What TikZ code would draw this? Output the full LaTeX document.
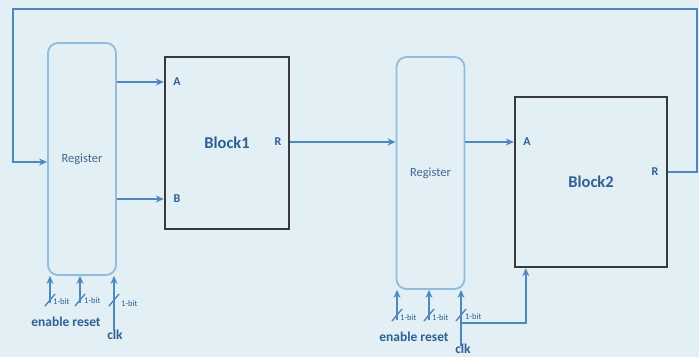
\documentclass[tikz,border=0pt]{standalone}
\usepackage{fontspec}
\setmainfont{Carlito}
\usetikzlibrary{arrows.meta}
\definecolor{bg}{HTML}{E2F0F5}
\definecolor{wire}{HTML}{4F87C1}
\definecolor{regline}{HTML}{92BCDD}
\definecolor{txt}{HTML}{2F5F93}
\definecolor{blk}{HTML}{3A3A3A}
\tikzset{
  regbox/.style={draw=regline, line width=1.8pt, rounded corners=10pt, minimum width=68pt, font=\fontsize{12.5}{12.5}\selectfont, text=txt!75!gray},
  blkbox/.style={draw=blk, line width=2.4pt, font=\bfseries\fontsize{16.5}{16.5}\selectfont, text=txt},
  port/.style={font=\bfseries\fontsize{12}{12}\selectfont, text=txt, inner sep=0pt},
  wirea/.style={draw=wire, line width=1.8pt, -{Stealth[length=8pt,width=7pt]}},
  slash/.style={draw=wire, line width=1.4pt},
  bitlab/.style={font=\fontsize{8.5}{8.5}\selectfont, text=txt, inner sep=0pt, anchor=west},
  siglab/.style={font=\bfseries\fontsize{13.5}{13.5}\selectfont, text=txt, inner sep=0pt}
}
\begin{document}
\begin{tikzpicture}[x=1pt,y=-1pt]
\fill[bg] (0,0) rectangle (699,357);
\useasboundingbox (0,0) rectangle (699,357);

% boxes
\node[regbox, minimum height=232pt] (reg1) at (82,159) {Register};
\node[regbox, minimum height=232pt] (reg2) at (430.5,173) {Register};
\node[blkbox, minimum width=124pt, minimum height=172pt] (blk1) at (227,143) {Block1};
\node[blkbox, minimum width=152pt, minimum height=170pt] (blk2) at (591,182) {Block2};

% port labels
\node[port] (a1) at (177,82) {A};
\node[port] (b1) at (177,199) {B};
\node[port] (r1) at (278,142) {R};
\node[port] (a2) at (527,142) {A};
\node[port] (r2) at (655,172) {R};

% data connectors
\draw[wirea] (reg1.east |- a1) -- (blk1.west |- a1);
\draw[wirea] (reg1.east |- b1) -- (blk1.west |- b1);
\draw[wirea] (blk1.east |- r1) -- (reg2.west |- r1);
\draw[wirea] (reg2.east |- a2) -- (blk2.west |- a2);

% feedback
\coordinate (tr) at (697,9);
\coordinate (tl) at (13,9);
\coordinate (fbin) at (13,162);
\draw[wirea] (blk2.east |- r2) -| (tr) -- (tl) -- (fbin) -- (reg1.west |- fbin);

% register 1 control inputs
\coordinate (en1) at (50,303);
\coordinate (rs1) at (80,303);
\coordinate (ck1) at (114,330);
\draw[wirea] (en1) -- (en1 |- reg1.south);
\draw[wirea] (rs1) -- (rs1 |- reg1.south);
\draw[wirea] (ck1) -- (ck1 |- reg1.south);
\draw[slash] (45,306) -- (55,294);
\draw[slash] (75,306) -- (85,294);
\draw[slash] (109,306) -- (119,294);
\node[bitlab] (bt1) at (53,302) {1-bit};
\node[bitlab] (bt2) at (84,301) {1-bit};
\node[bitlab] (bt3) at (121,304) {1-bit};
\node[siglab] (er1) at (66,322) {enable reset};
\node[siglab] (cl1) at (115,335) {clk};

% register 2 control inputs
\coordinate (en2) at (397,320);
\coordinate (rs2) at (429,320);
\coordinate (ck2) at (461,346);
\coordinate (ckb) at (461,323);
\draw[wirea] (en2) -- (en2 |- reg2.south);
\draw[wirea] (rs2) -- (rs2 |- reg2.south);
\draw[wirea] (ck2) -- (ck2 |- reg2.south);
\draw[wirea] (ckb) -| ([xshift=12pt]blk2.south west);
\draw[slash] (392,321) -- (402,309);
\draw[slash] (424,321) -- (434,309);
\draw[slash] (456,321) -- (466,309);
\node[bitlab] (bt4) at (400,318) {1-bit};
\node[bitlab] (bt5) at (432,318) {1-bit};
\node[bitlab] (bt6) at (465,317) {1-bit};
\node[siglab] (er2) at (414,337) {enable reset};
\node[siglab] (cl2) at (463,349) {clk};
\end{tikzpicture}
\end{document}
